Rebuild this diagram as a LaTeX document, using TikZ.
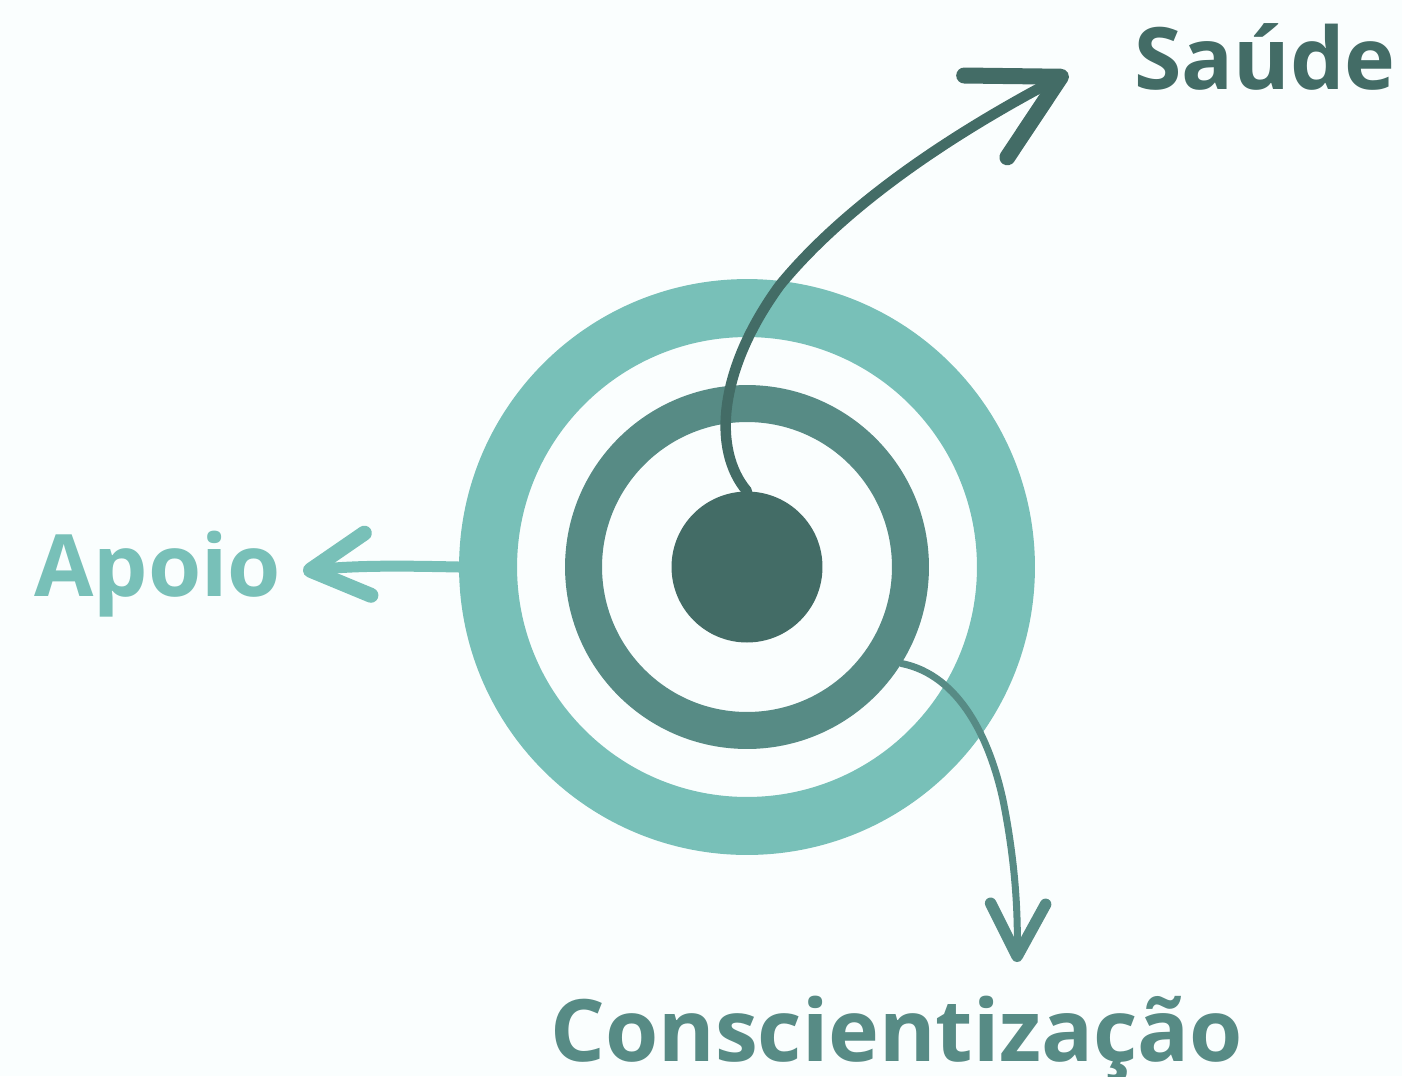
\documentclass[tikz,border=0pt]{standalone}
\usepackage{fontspec}
\setmainfont{Open Sans}
\usepackage{xcolor}
\usetikzlibrary{arrows.meta,positioning,calc}

\definecolor{deepteal}{HTML}{436C66}
\definecolor{midteal}{HTML}{578B85}
\definecolor{lightteal}{HTML}{78C0B8}
\definecolor{pagebg}{HTML}{FAFEFE}

\begin{document}
\begin{tikzpicture}[x=0.02cm, y=-0.02cm,
    ring/.style={circle, draw, inner sep=0pt, fill=none},
    word/.style={anchor=base west, inner sep=0pt, font=\fontsize{49}{50}\selectfont\bfseries}]
    % Background
    \fill[pagebg] (0,0) rectangle (1402,1076);
    \useasboundingbox (0,0) rectangle (1402,1076);

    % Target
    \node[ring, draw=lightteal, line width=1.16cm, minimum size=10.36cm] (outer) at (747,567) {};
    \node[ring, draw=midteal, line width=0.74cm, minimum size=6.54cm] (middle) at (747,567) {};
    \node[circle, fill=deepteal, inner sep=0pt, minimum size=3.02cm] (core) at (747,567) {};

    % Labels
    \node[word, text=deepteal] (saude) at (1134,89) {Saúde};
    \node[word, text=lightteal] (apoio) at (34,596) {Apoio};
    \node[word, text=midteal] (consc) at (550,1061) {Conscientização};

    % Arrow ends
    \coordinate (saudetip) at (1068,73);
    \coordinate (apoiotip) at (303,571);
    \coordinate (consctip) at (1017,962);

    % Arrows
    \draw[deepteal, line width=0.21cm, line cap=round,
        -{Straight Barb[length=1.7cm, width=1.85cm, line width=0.32cm, round]}]
        (core.north) .. controls (712,450) and (718,370) .. (780,285)
        .. controls (850,200) and (960,130) .. (saudetip);
    \draw[lightteal, line width=0.22cm,
        -{Straight Barb[length=1.15cm, width=1.25cm, line width=0.3cm, round]}]
        (outer.west) .. controls (410,566) and (360,565) .. (apoiotip);
    \draw[midteal, line width=0.14cm, line cap=round,
        -{Straight Barb[length=1.05cm, width=1.1cm, line width=0.23cm, round]}]
        (middle.-32) .. controls (960,675) and (990,740) .. (1003,800)
        .. controls (1015,860) and (1018,910) .. (consctip);
\end{tikzpicture}
\end{document}
